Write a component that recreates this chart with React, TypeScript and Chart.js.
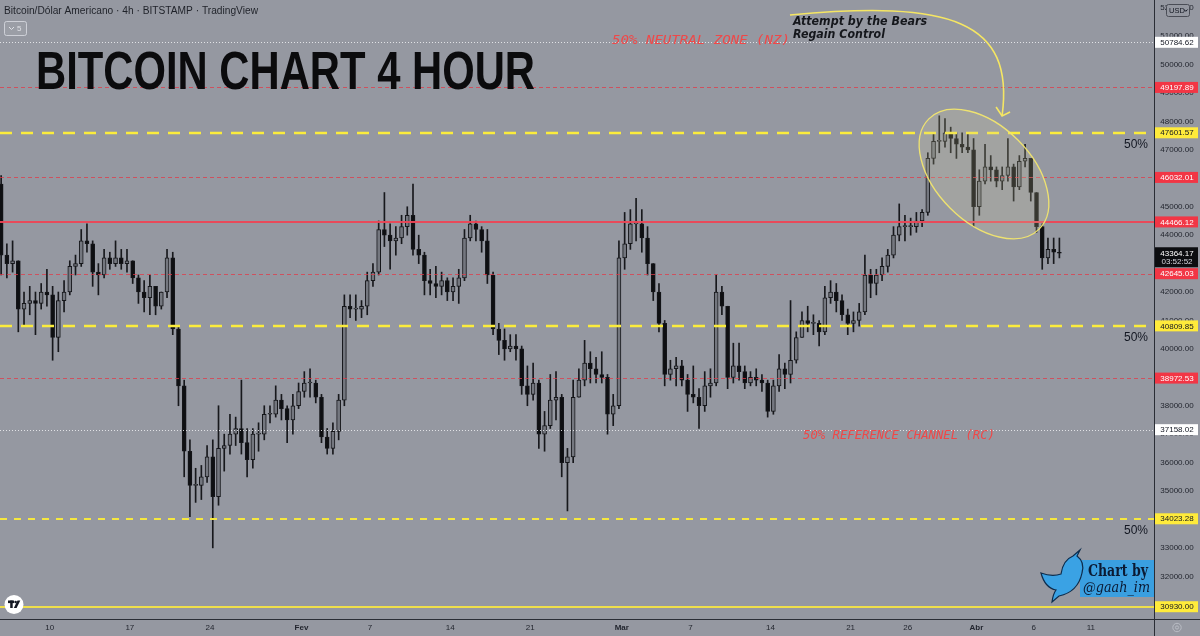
import React, { useEffect, useRef } from "react";
import { Chart, registerables } from "chart.js";
Chart.register(...registerables);

// ---------- DATA ----------
// 12-hour candles, day 0 = 10 Jan 2022 00:00; first candle starts at day -4.5
const CANDLE_START_DAY = -4.5;
const CANDLE_STEP_DAYS = 0.5;
const FIRST_OPEN = 45800;

const closes = [
  43300, 43000, 43100, 41400, 41600, 41700, 41600, 42000, 41900, 40400,
  41700, 42000, 42900, 43000, 43800, 43700, 42700, 42600, 43200, 43000,
  43200, 43000, 43100, 42500, 42000, 41800, 42200, 41500, 42000, 43200,
  40700, 38700, 36400, 35200, 35200, 35500, 36200, 34800, 36500, 36600,
  37000, 37200, 36700, 36100, 37000, 37000, 37700, 37700, 38200, 37900,
  37500, 38000, 38500, 38800, 38800, 38300, 36900, 36500, 37100, 38200,
  41500, 41400, 41400, 41500, 42400, 42700, 44200, 44000, 43800, 43900,
  44300, 44700, 43500, 43300, 42400, 42300, 42200, 42400, 42000, 42200,
  42500, 43900, 44400, 44200, 43800, 42600, 40700, 40300, 40000, 40100,
  40000, 38700, 38400, 38800, 37000, 37300, 38200, 38300, 36000, 36200,
  38300, 38900, 39500, 39300, 39100, 39000, 37700, 38000, 43200, 43700,
  44400, 44400, 43900, 43000, 42000, 40900, 39100, 39300, 39400, 38900,
  38400, 38300, 38000, 38700, 38800, 42000, 41500, 39000, 39400, 39200,
  38800, 39000, 38900, 38800, 37800, 38700, 39300, 39100, 39600, 40400,
  41000, 40900, 40900, 40600, 41800, 42000, 41700, 41200, 40900, 41000,
  41300, 42600, 42300, 42600, 42900, 43300, 44000, 44300, 44300, 44300,
  44500, 44800, 46700, 47300, 47300, 47600, 47400, 47200, 47100, 47000,
  45000, 45900, 46400, 46300, 45900, 46100, 46400, 45700, 46600, 46700,
  45500, 44300, 43200, 43500, 43400, 43364.17,
];

const highs = [
  46100, 43700, 43800, 43100, 42000, 42200, 42000, 42300, 42800, 42200,
  42000, 42400, 43100, 43300, 44200, 44400, 43800, 43000, 43500, 43400,
  43800, 43500, 43500, 43100, 42600, 42400, 42600, 42200, 42000, 43500,
  43400, 40800, 38900, 36800, 35800, 35900, 36600, 36800, 38000, 37000,
  37700, 37600, 38900, 37200, 37200, 37400, 38000, 38000, 38700, 38400,
  38000, 38400, 38800, 39200, 39300, 38900, 38400, 37200, 37400, 38400,
  41900, 41900, 41900, 41700, 42700, 43000, 44500, 45500, 44400, 44300,
  44700, 45000, 45800, 44000, 43400, 42800, 42900, 42700, 42500, 42500,
  42800, 44200, 44700, 44500, 44300, 44200, 42700, 40900, 40700, 40500,
  40500, 40100, 39400, 39500, 38900, 37800, 39100, 39200, 38400, 36500,
  38900, 39300, 40300, 39900, 39700, 39900, 39100, 38400, 43800, 44800,
  44900, 45300, 44900, 44300, 43000, 42300, 41000, 39600, 39700, 39600,
  39100, 39400, 38600, 39200, 39300, 42600, 42200, 41500, 40200, 40200,
  39400, 39200, 39300, 39100, 38900, 38900, 39800, 39500, 41700, 40600,
  41300, 41500, 41200, 41000, 42200, 42400, 42300, 41900, 41400, 41300,
  41600, 43300, 42800, 42800, 43200, 43500, 44300, 45100, 44700, 44600,
  44800, 44900, 46900, 47600, 48200, 48100, 47800, 47600, 47600, 47600,
  47400, 46300, 47200, 46800, 46400, 46400, 47400, 46500, 46800, 47200,
  46700, 45500, 44400, 43900, 43900, 43900,
];

const lows = [
  42600, 42500, 42700, 40600, 40800, 41200, 40500, 41400, 41500, 39600,
  39900, 41300, 41900, 42600, 42900, 43400, 42200, 41900, 42500, 42800,
  42900, 42800, 42700, 42300, 41600, 41300, 41200, 41200, 41400, 41800,
  40500, 38000, 35500, 34100, 34600, 34700, 35300, 33000, 34500, 35700,
  36300, 36600, 36300, 35500, 35800, 36400, 36800, 37400, 37600, 37500,
  36700, 37000, 37900, 38300, 38300, 38100, 36700, 36300, 36300, 36800,
  38000, 41100, 41000, 41100, 41200, 42200, 42600, 43600, 42800, 43300,
  43700, 44000, 43300, 43000, 41900, 41900, 41800, 41900, 41700, 41700,
  41600, 42400, 43800, 43800, 43400, 42300, 40500, 39800, 39600, 39900,
  39600, 38400, 38000, 38200, 36500, 36400, 37200, 37500, 35500, 34300,
  36000, 38300, 38700, 38800, 38800, 38800, 37000, 37300, 37900, 42800,
  43500, 43800, 43400, 42600, 41700, 40600, 38700, 38900, 38700, 38700,
  37800, 38100, 37200, 37800, 38300, 38700, 41200, 38600, 38800, 38900,
  38600, 38700, 38700, 38500, 37600, 37700, 38500, 38600, 38800, 39500,
  40400, 40600, 40500, 40100, 40500, 41600, 41300, 41000, 40500, 40600,
  40800, 41200, 41800, 41900, 42400, 42700, 43200, 43800, 43800, 44000,
  44100, 44300, 44700, 46500, 46900, 47100, 46900, 46700, 46900, 46900,
  44300, 44700, 45800, 45900, 45700, 45600, 45900, 45200, 45600, 46400,
  45200, 44100, 42800, 43000, 43000, 43200,
];

// time axis (days from 10 Jan)
const xTickDays = [0, 7, 14, 22, 28, 35, 42, 50, 56, 63, 70, 75, 81, 86, 91];
const xTickLabels = ["10", "17", "24", "Fev", "7", "14", "21", "Mar", "7", "14", "21", "26", "Abr", "6", "11"];

// price axis
const yTickValues = [
  31000, 32000, 33000, 34000, 35000, 36000, 37000, 38000, 39000, 40000, 41000,
  42000, 43000, 44000, 45000, 46000, 47000, 48000, 49000, 50000, 51000, 52000,
];

// horizontal levels
const levelValues = [50784.62, 49197.89, 47601.57, 46032.01, 44466.12, 42645.03, 40809.85, 38972.53, 37158.02, 34023.28, 30930.0];
const levelKinds = ["white", "red", "yellow", "red", "redSolid", "red", "yellow", "red", "white", "yellowThin", "yellowSolid"];
const fiftyPctLevels = [47601.57, 40809.85, 34023.28];

const lastPrice = 43364.17;
const countdown = "03:52:52";

// visible window
const X_MIN = -4.35;
const X_MAX = 96.52;
const Y_MIN = 30498;
const Y_MAX = 52273;

// annotation anchors (day, price)
const ELLIPSE_CENTER = [81.66, 46152];
const ARROW_PATH = [
  [64.7, 51745],
  [78.69, 52272],
  [84.37, 51569],
  [83.24, 48192],
];

// ---------- STYLES ----------
const BG = "#9598a1";
const TEXT = "#23262f";
const LEVEL_STYLES: Record<string, { line: string; width: number; dash: number[]; box: string; text: string }> = {
  white: { line: "rgba(238,238,242,0.85)", width: 1, dash: [1, 2], box: "#ffffff", text: "#131722" },
  red: { line: "rgba(226,58,72,0.75)", width: 1, dash: [4, 3], box: "#f23645", text: "#ffffff" },
  redSolid: { line: "rgba(236,70,86,0.95)", width: 2, dash: [], box: "#f23645", text: "#ffffff" },
  yellow: { line: "#fbec3c", width: 2.5, dash: [12, 9], box: "#ffeb3b", text: "#131722" },
  yellowThin: { line: "#f6e83e", width: 2, dash: [7, 7], box: "#ffeb3b", text: "#131722" },
  yellowSolid: { line: "#efdf4a", width: 2, dash: [], box: "#ffeb3b", text: "#131722" },
};

function fitText(ctx: CanvasRenderingContext2D, text: string, x: number, y: number, font: string, width: number) {
  ctx.font = font;
  const w = ctx.measureText(text).width;
  ctx.save();
  ctx.translate(x, y);
  ctx.scale(width / w, 1);
  ctx.textAlign = "left";
  ctx.fillText(text, 0, 0);
  ctx.restore();
}

const bgPlugin = {
  id: "bg",
  beforeDraw(chart: any) {
    const ctx = chart.ctx;
    ctx.save();
    ctx.fillStyle = BG;
    ctx.fillRect(0, 0, chart.width, chart.height);
    ctx.restore();
  },
};

const overlayPlugin = {
  id: "overlay",
  afterDraw(chart: any) {
    const ctx: CanvasRenderingContext2D = chart.ctx;
    const xs = chart.scales.x;
    const ys = chart.scales.y;
    const a = chart.chartArea;
    const px = (v: number) => xs.getPixelForValue(v);
    const py = (v: number) => ys.getPixelForValue(v);
    const W = chart.width;
    const H = chart.height;

    // level lines
    ctx.save();
    ctx.beginPath();
    ctx.rect(a.left, a.top, a.right - a.left, a.bottom - a.top);
    ctx.clip();
    levelValues.forEach((v, i) => {
      const s = LEVEL_STYLES[levelKinds[i]];
      ctx.strokeStyle = s.line;
      ctx.lineWidth = s.width;
      ctx.setLineDash(s.dash);
      const y = Math.round(py(v)) + (s.width === 1 ? 0.5 : 0);
      ctx.beginPath();
      ctx.moveTo(a.left, y);
      ctx.lineTo(a.right, y);
      ctx.stroke();
    });
    ctx.setLineDash([]);

    // ellipse
    const ecx = px(ELLIPSE_CENTER[0]);
    const ecy = py(ELLIPSE_CENTER[1]);
    ctx.beginPath();
    ctx.ellipse(ecx, ecy, 78, 48, Math.PI / 4, 0, Math.PI * 2);
    ctx.fillStyle = "rgba(215,212,165,0.2)";
    ctx.fill();
    ctx.strokeStyle = "rgba(242,230,110,0.95)";
    ctx.lineWidth = 1.3;
    ctx.stroke();

    // curved arrow
    const pts = ARROW_PATH.map((p) => [px(p[0]), py(p[1])]);
    ctx.beginPath();
    ctx.moveTo(pts[0][0], pts[0][1]);
    ctx.bezierCurveTo(pts[1][0], pts[1][1], pts[2][0], pts[2][1], pts[3][0], pts[3][1]);
    ctx.strokeStyle = "#f5e663";
    ctx.lineWidth = 1.6;
    ctx.stroke();
    const tip = pts[3];
    ctx.beginPath();
    ctx.moveTo(tip[0] - 6, tip[1] - 9);
    ctx.lineTo(tip[0], tip[1]);
    ctx.lineTo(tip[0] + 8, tip[1] - 4);
    ctx.stroke();
    ctx.restore();

    // ---- texts on chart ----
    ctx.save();
    ctx.textBaseline = "middle";
    ctx.fillStyle = "#1f2229";
    fitText(ctx, "Bitcoin/Dólar Americano · 4h · BITSTAMP · TradingView", 4, 11, '10px "Liberation Sans", Arial, sans-serif', 254);

    // small "v 5" button
    ctx.beginPath();
    ctx.roundRect(4.5, 21.5, 22, 14, 2);
    ctx.fillStyle = "rgba(255,255,255,0.06)";
    ctx.fill();
    ctx.strokeStyle = "rgba(215,217,224,0.85)";
    ctx.lineWidth = 1;
    ctx.stroke();
    ctx.beginPath();
    ctx.moveTo(9, 27);
    ctx.lineTo(11.5, 29.5);
    ctx.lineTo(14, 27);
    ctx.strokeStyle = "#dfe1e6";
    ctx.stroke();
    ctx.fillStyle = "#dfe1e6";
    ctx.font = '8px "Liberation Sans", Arial, sans-serif';
    ctx.fillText("5", 17, 28.5);

    // title
    ctx.textBaseline = "alphabetic";
    ctx.fillStyle = "#0b0b0d";
    fitText(ctx, "BITCOIN CHART 4 HOUR", 36, 89, 'bold 54px "Liberation Sans", Arial, sans-serif', 499);

    // red zone captions
    ctx.textBaseline = "middle";
    ctx.fillStyle = "#ef4848";
    fitText(ctx, "50% NEUTRAL ZONE (NZ)", 612, 41, 'italic 13px "DejaVu Sans Mono", monospace', 178);
    fitText(ctx, "50% REFERENCE CHANNEL (RC)", 803, 436, 'italic 13px "DejaVu Sans Mono", monospace', 192);

    // annotation text
    ctx.fillStyle = "#15171c";
    fitText(ctx, "Attempt by the Bears", 793, 21.5, 'italic bold 12px "DejaVu Sans", sans-serif', 134);
    fitText(ctx, "Regain Control", 793, 35, 'italic bold 12px "DejaVu Sans", sans-serif', 92);

    // 50% labels
    ctx.fillStyle = "#131722";
    ctx.font = '12px "Liberation Sans", Arial, sans-serif';
    ctx.textAlign = "right";
    fiftyPctLevels.forEach((v) => ctx.fillText("50%", 1148, py(v) + 12));
    ctx.textAlign = "left";

    // twitter badge
    ctx.fillStyle = "#3a9fe0";
    ctx.fillRect(1080, 560, 74, 37);
    ctx.fillStyle = "#0b1a33";
    ctx.textBaseline = "alphabetic";
    fitText(ctx, "Chart by", 1088, 576, 'bold 17px "DejaVu Serif", serif', 60);
    fitText(ctx, "@gaah_im", 1083, 592, 'italic 15px "DejaVu Serif", serif', 67);
    // bird
    ctx.beginPath();
    ctx.moveTo(1080, 550);
    ctx.lineTo(1077, 556);
    ctx.quadraticCurveTo(1085, 562, 1082, 573);
    ctx.quadraticCurveTo(1078, 592, 1059, 596);
    ctx.lineTo(1052, 602);
    ctx.quadraticCurveTo(1053, 594, 1056, 590);
    ctx.quadraticCurveTo(1045, 588, 1041, 573);
    ctx.quadraticCurveTo(1052, 577, 1061, 574);
    ctx.quadraticCurveTo(1063, 560, 1073, 556);
    ctx.closePath();
    ctx.fillStyle = "#3aa2e4";
    ctx.fill();
    ctx.strokeStyle = "#0d2c4c";
    ctx.lineWidth = 1.2;
    ctx.stroke();

    // TradingView logo
    ctx.beginPath();
    ctx.arc(14, 604.5, 9.5, 0, Math.PI * 2);
    ctx.fillStyle = "#ffffff";
    ctx.fill();
    ctx.fillStyle = "#131722";
    ctx.fillRect(8, 600.5, 6, 2.6);
    ctx.fillRect(10.2, 600.5, 2.5, 7.5);
    ctx.beginPath();
    ctx.arc(15.6, 602, 1.3, 0, Math.PI * 2);
    ctx.fill();
    ctx.beginPath();
    ctx.moveTo(17.5, 600.5);
    ctx.lineTo(20.3, 600.5);
    ctx.lineTo(16.6, 608);
    ctx.lineTo(13.8, 608);
    ctx.closePath();
    ctx.fill();
    ctx.restore();

    // ---- axes ----
    ctx.save();
    ctx.strokeStyle = "#2a2d35";
    ctx.lineWidth = 1;
    ctx.beginPath();
    ctx.moveTo(a.right + 0.5, 0);
    ctx.lineTo(a.right + 0.5, H);
    ctx.moveTo(0, a.bottom + 0.5);
    ctx.lineTo(W, a.bottom + 0.5);
    ctx.stroke();

    const axisCx = (a.right + W) / 2;
    ctx.fillStyle = TEXT;
    ctx.font = '8px "Liberation Sans", Arial, sans-serif';
    ctx.textAlign = "center";
    ctx.textBaseline = "middle";
    yTickValues.forEach((v) => {
      const y = py(v);
      if (y < 0 || y > a.bottom) return;
      ctx.fillText(v.toFixed(2), axisCx, y);
    });
    xTickDays.forEach((d, i) => {
      const lbl = xTickLabels[i];
      ctx.font = (isNaN(Number(lbl)) ? "bold " : "") + '8px "Liberation Sans", Arial, sans-serif';
      ctx.fillText(lbl, px(d), 628);
    });

    // level price boxes
    ctx.font = '8px "Liberation Sans", Arial, sans-serif';
    levelValues.forEach((v, i) => {
      const s = LEVEL_STYLES[levelKinds[i]];
      const y = py(v);
      ctx.fillStyle = s.box;
      ctx.fillRect(a.right + 1, y - 5.5, 43, 11);
      ctx.fillStyle = s.text;
      ctx.fillText(v.toFixed(2), axisCx, y + 0.5);
    });

    // last price box
    const ly = py(lastPrice);
    ctx.fillStyle = "#0c0d10";
    ctx.fillRect(a.right + 1, ly - 6, 43, 20);
    ctx.fillStyle = "#ffffff";
    ctx.fillText(lastPrice.toFixed(2), axisCx, ly + 0.5);
    ctx.fillStyle = "#d5d7de";
    ctx.fillText(countdown, axisCx, ly + 8.5);

    // USD button
    ctx.beginPath();
    ctx.roundRect(1166.5, 4.5, 23, 12, 2);
    ctx.fillStyle = BG;
    ctx.fill();
    ctx.strokeStyle = "#4a4d56";
    ctx.stroke();
    ctx.fillStyle = "#131722";
    ctx.font = '7.5px "Liberation Sans", Arial, sans-serif';
    ctx.textAlign = "left";
    ctx.fillText("USD", 1169, 10.8);
    ctx.beginPath();
    ctx.moveTo(1184, 9.5);
    ctx.lineTo(1185.8, 11.3);
    ctx.lineTo(1187.6, 9.5);
    ctx.strokeStyle = "#131722";
    ctx.stroke();

    // gear in corner
    ctx.beginPath();
    ctx.arc(1177, 627.5, 4.2, 0, Math.PI * 2);
    ctx.strokeStyle = "#b9bcc4";
    ctx.stroke();
    ctx.beginPath();
    ctx.arc(1177, 627.5, 1.6, 0, Math.PI * 2);
    ctx.stroke();
    ctx.restore();
  },
};

export default function App() {
  const ref = useRef<HTMLCanvasElement | null>(null);

  useEffect(() => {
    document.body.style.margin = "0";
    const opens = closes.map((_, i) => (i === 0 ? FIRST_OPEN : closes[i - 1]));
    const xs = closes.map((_, i) => CANDLE_START_DAY + i * CANDLE_STEP_DAYS + CANDLE_STEP_DAYS / 2);
    const wickData = closes.map((_, i) => ({ x: xs[i], y: [lows[i], highs[i]] }));
    const bodyData = closes.map((c, i) => ({ x: xs[i], y: [opens[i], c] }));
    const bodyColors = closes.map((c, i) => (c >= opens[i] ? "#74777f" : "#0e0f12"));

    const chart = new Chart(ref.current as HTMLCanvasElement, {
      type: "bar",
      data: {
        datasets: [
          {
            label: "wicks",
            data: wickData as any,
            backgroundColor: "#17181c",
            borderWidth: 0,
            barThickness: 1,
            grouped: false,
            order: 2,
          } as any,
          {
            label: "bodies",
            data: bodyData as any,
            backgroundColor: bodyColors,
            borderColor: "#15161a",
            borderWidth: 1,
            borderSkipped: false,
            barThickness: 4,
            minBarLength: 1,
            grouped: false,
            order: 1,
          } as any,
        ],
      },
      options: {
        animation: false,
        responsive: false,
        maintainAspectRatio: false,
        devicePixelRatio: 1,
        events: [],
        layout: { padding: { left: 0, top: 0, right: 46, bottom: 17 } },
        plugins: { legend: { display: false }, tooltip: { enabled: false } },
        scales: {
          x: { type: "linear", min: X_MIN, max: X_MAX, display: false, offset: false, grid: { display: false } },
          y: { type: "linear", min: Y_MIN, max: Y_MAX, display: false, grid: { display: false } },
        },
      } as any,
      plugins: [bgPlugin, overlayPlugin],
    });
    return () => chart.destroy();
  }, []);

  return (
    <div style={{ position: "absolute", left: 0, top: 0, width: 1200, height: 636 }}>
      <canvas ref={ref} width={1200} height={636} style={{ display: "block", width: 1200, height: 636 }} />
    </div>
  );
}
